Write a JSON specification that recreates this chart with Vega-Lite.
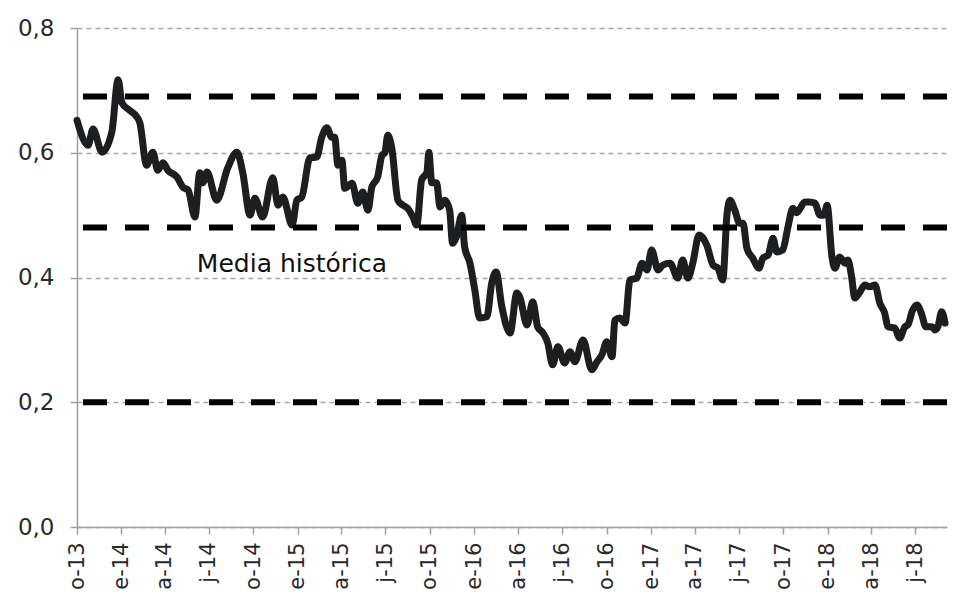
{
  "$schema": "https://vega.github.io/schema/vega-lite/v6.json",
  "width": 870,
  "height": 499,
  "autosize": "none",
  "padding": {"left": 77, "top": 28, "right": 13, "bottom": 72},
  "background": "white",
  "config": {
    "view": {"stroke": null},
    "font": "DejaVu Sans",
    "axis": {
      "domainColor": "#a0a0a0",
      "domainWidth": 1.5,
      "tickColor": "#a0a0a0",
      "tickWidth": 1.5,
      "tickSize": 7,
      "labelFont": "DejaVu Sans",
      "labelColor": "#2a2a2a",
      "gridColor": "#a6a6a6",
      "gridWidth": 1.3,
      "gridDash": [5, 4]
    }
  },
  "datasets": {
    "series": [
      {"date": "2013-10-01", "value": 0.652},
      {"date": "2013-10-24", "value": 0.612},
      {"date": "2013-11-03", "value": 0.638},
      {"date": "2013-11-22", "value": 0.601},
      {"date": "2013-12-12", "value": 0.633},
      {"date": "2013-12-25", "value": 0.717},
      {"date": "2014-01-02", "value": 0.68},
      {"date": "2014-01-18", "value": 0.668},
      {"date": "2014-01-29", "value": 0.661},
      {"date": "2014-02-08", "value": 0.648},
      {"date": "2014-02-22", "value": 0.58},
      {"date": "2014-03-07", "value": 0.601},
      {"date": "2014-03-17", "value": 0.572},
      {"date": "2014-03-28", "value": 0.584},
      {"date": "2014-04-07", "value": 0.572},
      {"date": "2014-04-26", "value": 0.561},
      {"date": "2014-05-08", "value": 0.545},
      {"date": "2014-05-19", "value": 0.54},
      {"date": "2014-06-02", "value": 0.497},
      {"date": "2014-06-12", "value": 0.568},
      {"date": "2014-06-18", "value": 0.552},
      {"date": "2014-06-27", "value": 0.569},
      {"date": "2014-07-17", "value": 0.524},
      {"date": "2014-08-09", "value": 0.576},
      {"date": "2014-08-28", "value": 0.601},
      {"date": "2014-09-09", "value": 0.568},
      {"date": "2014-09-24", "value": 0.5},
      {"date": "2014-10-04", "value": 0.527},
      {"date": "2014-10-20", "value": 0.497},
      {"date": "2014-11-10", "value": 0.56},
      {"date": "2014-11-21", "value": 0.516},
      {"date": "2014-12-01", "value": 0.529},
      {"date": "2014-12-20", "value": 0.484},
      {"date": "2014-12-30", "value": 0.524},
      {"date": "2015-01-09", "value": 0.529},
      {"date": "2015-01-26", "value": 0.592},
      {"date": "2015-02-09", "value": 0.593},
      {"date": "2015-02-19", "value": 0.624},
      {"date": "2015-03-02", "value": 0.64},
      {"date": "2015-03-12", "value": 0.625},
      {"date": "2015-03-18", "value": 0.625},
      {"date": "2015-03-25", "value": 0.58},
      {"date": "2015-04-02", "value": 0.588},
      {"date": "2015-04-08", "value": 0.543},
      {"date": "2015-04-23", "value": 0.551},
      {"date": "2015-05-05", "value": 0.519},
      {"date": "2015-05-15", "value": 0.537},
      {"date": "2015-05-26", "value": 0.508},
      {"date": "2015-06-03", "value": 0.545},
      {"date": "2015-06-15", "value": 0.561},
      {"date": "2015-06-24", "value": 0.596},
      {"date": "2015-06-30", "value": 0.6},
      {"date": "2015-07-06", "value": 0.628},
      {"date": "2015-07-14", "value": 0.609},
      {"date": "2015-07-27", "value": 0.524},
      {"date": "2015-08-06", "value": 0.516},
      {"date": "2015-08-16", "value": 0.511},
      {"date": "2015-08-27", "value": 0.497},
      {"date": "2015-09-04", "value": 0.484},
      {"date": "2015-09-14", "value": 0.556},
      {"date": "2015-09-25", "value": 0.569},
      {"date": "2015-09-29", "value": 0.601},
      {"date": "2015-10-05", "value": 0.552},
      {"date": "2015-10-15", "value": 0.552},
      {"date": "2015-10-22", "value": 0.513},
      {"date": "2015-11-01", "value": 0.524},
      {"date": "2015-11-11", "value": 0.508},
      {"date": "2015-11-17", "value": 0.455},
      {"date": "2015-11-25", "value": 0.465},
      {"date": "2015-12-06", "value": 0.5},
      {"date": "2015-12-12", "value": 0.449},
      {"date": "2015-12-23", "value": 0.423},
      {"date": "2016-01-02", "value": 0.38},
      {"date": "2016-01-12", "value": 0.335},
      {"date": "2016-01-27", "value": 0.337},
      {"date": "2016-02-06", "value": 0.391},
      {"date": "2016-02-15", "value": 0.409},
      {"date": "2016-02-27", "value": 0.353},
      {"date": "2016-03-15", "value": 0.311},
      {"date": "2016-03-29", "value": 0.375},
      {"date": "2016-04-04", "value": 0.369},
      {"date": "2016-04-19", "value": 0.324},
      {"date": "2016-05-01", "value": 0.361},
      {"date": "2016-05-11", "value": 0.321},
      {"date": "2016-05-22", "value": 0.311},
      {"date": "2016-06-01", "value": 0.295},
      {"date": "2016-06-11", "value": 0.26},
      {"date": "2016-06-22", "value": 0.289},
      {"date": "2016-07-06", "value": 0.263},
      {"date": "2016-07-17", "value": 0.281},
      {"date": "2016-07-27", "value": 0.265},
      {"date": "2016-08-13", "value": 0.3},
      {"date": "2016-08-31", "value": 0.252},
      {"date": "2016-09-11", "value": 0.265},
      {"date": "2016-09-21", "value": 0.276},
      {"date": "2016-10-01", "value": 0.297},
      {"date": "2016-10-12", "value": 0.273},
      {"date": "2016-10-18", "value": 0.332},
      {"date": "2016-10-28", "value": 0.335},
      {"date": "2016-11-08", "value": 0.327},
      {"date": "2016-11-18", "value": 0.396},
      {"date": "2016-12-02", "value": 0.399},
      {"date": "2016-12-13", "value": 0.423},
      {"date": "2016-12-23", "value": 0.412},
      {"date": "2017-01-02", "value": 0.444},
      {"date": "2017-01-15", "value": 0.412},
      {"date": "2017-01-25", "value": 0.42},
      {"date": "2017-02-09", "value": 0.423},
      {"date": "2017-02-25", "value": 0.399},
      {"date": "2017-03-07", "value": 0.428},
      {"date": "2017-03-18", "value": 0.399},
      {"date": "2017-03-28", "value": 0.423},
      {"date": "2017-04-10", "value": 0.468},
      {"date": "2017-04-26", "value": 0.452},
      {"date": "2017-05-09", "value": 0.42},
      {"date": "2017-05-19", "value": 0.415},
      {"date": "2017-05-29", "value": 0.396},
      {"date": "2017-06-07", "value": 0.503},
      {"date": "2017-06-13", "value": 0.524},
      {"date": "2017-06-23", "value": 0.508},
      {"date": "2017-07-03", "value": 0.487},
      {"date": "2017-07-10", "value": 0.487},
      {"date": "2017-07-18", "value": 0.447},
      {"date": "2017-07-30", "value": 0.431},
      {"date": "2017-08-12", "value": 0.415},
      {"date": "2017-08-20", "value": 0.431},
      {"date": "2017-08-31", "value": 0.436},
      {"date": "2017-09-10", "value": 0.463},
      {"date": "2017-09-18", "value": 0.441},
      {"date": "2017-09-30", "value": 0.444},
      {"date": "2017-10-11", "value": 0.481},
      {"date": "2017-10-21", "value": 0.511},
      {"date": "2017-10-29", "value": 0.504},
      {"date": "2017-11-15", "value": 0.521},
      {"date": "2017-11-25", "value": 0.521},
      {"date": "2017-12-06", "value": 0.519},
      {"date": "2017-12-16", "value": 0.5},
      {"date": "2017-12-24", "value": 0.5},
      {"date": "2017-12-31", "value": 0.516},
      {"date": "2018-01-10", "value": 0.433},
      {"date": "2018-01-16", "value": 0.415},
      {"date": "2018-01-26", "value": 0.433},
      {"date": "2018-02-06", "value": 0.423},
      {"date": "2018-02-12", "value": 0.428},
      {"date": "2018-02-20", "value": 0.399},
      {"date": "2018-02-26", "value": 0.367},
      {"date": "2018-03-09", "value": 0.377},
      {"date": "2018-03-19", "value": 0.388},
      {"date": "2018-03-29", "value": 0.385},
      {"date": "2018-04-09", "value": 0.388},
      {"date": "2018-04-19", "value": 0.359},
      {"date": "2018-04-29", "value": 0.343},
      {"date": "2018-05-06", "value": 0.321},
      {"date": "2018-05-20", "value": 0.319},
      {"date": "2018-05-30", "value": 0.303},
      {"date": "2018-06-10", "value": 0.321},
      {"date": "2018-06-16", "value": 0.324},
      {"date": "2018-06-26", "value": 0.348},
      {"date": "2018-07-05", "value": 0.356},
      {"date": "2018-07-15", "value": 0.34},
      {"date": "2018-07-23", "value": 0.321},
      {"date": "2018-08-05", "value": 0.321},
      {"date": "2018-08-11", "value": 0.316},
      {"date": "2018-08-17", "value": 0.321},
      {"date": "2018-08-25", "value": 0.345},
      {"date": "2018-09-01", "value": 0.327}
    ],
    "refs": [
      {"level": 0.69},
      {"level": 0.48},
      {"level": 0.2}
    ],
    "labels": [
      {"date": "2014-06-06", "value": 0.409, "text": "Media histórica"}
    ]
  },
  "layer": [
    {
      "data": {"name": "series"},
      "mark": {"type": "line", "color": "#1d1e20", "strokeWidth": 7, "interpolate": "monotone", "strokeJoin": "round", "strokeCap": "round"},
      "encoding": {
        "x": {
          "field": "date",
          "type": "temporal",
          "title": null,
          "scale": {
            "type": "utc",
            "domain": [
              {"year": 2013, "month": 10, "date": 1, "utc": true},
              {"year": 2018, "month": 9, "date": 5, "utc": true}
            ]
          },
          "axis": {
            "grid": false,
            "labelAngle": -90,
            "labelPadding": 8,
            "labelFontSize": 21,
            "values": [
              {"year": 2013, "month": 10, "date": 1, "utc": true},
              {"year": 2014, "month": 1, "date": 1, "utc": true},
              {"year": 2014, "month": 4, "date": 1, "utc": true},
              {"year": 2014, "month": 7, "date": 1, "utc": true},
              {"year": 2014, "month": 10, "date": 1, "utc": true},
              {"year": 2015, "month": 1, "date": 1, "utc": true},
              {"year": 2015, "month": 4, "date": 1, "utc": true},
              {"year": 2015, "month": 7, "date": 1, "utc": true},
              {"year": 2015, "month": 10, "date": 1, "utc": true},
              {"year": 2016, "month": 1, "date": 1, "utc": true},
              {"year": 2016, "month": 4, "date": 1, "utc": true},
              {"year": 2016, "month": 7, "date": 1, "utc": true},
              {"year": 2016, "month": 10, "date": 1, "utc": true},
              {"year": 2017, "month": 1, "date": 1, "utc": true},
              {"year": 2017, "month": 4, "date": 1, "utc": true},
              {"year": 2017, "month": 7, "date": 1, "utc": true},
              {"year": 2017, "month": 10, "date": 1, "utc": true},
              {"year": 2018, "month": 1, "date": 1, "utc": true},
              {"year": 2018, "month": 4, "date": 1, "utc": true},
              {"year": 2018, "month": 7, "date": 1, "utc": true}
            ],
            "labelExpr": "(utcmonth(datum.value)==0?'e':utcmonth(datum.value)==3?'a':utcmonth(datum.value)==6?'j':'o')+'-'+utcFormat(datum.value,'%y')"
          }
        },
        "y": {
          "field": "value",
          "type": "quantitative",
          "title": null,
          "scale": {"domain": [0, 0.8], "nice": false, "zero": true},
          "axis": {
            "values": [0, 0.2, 0.4, 0.6, 0.8],
            "grid": true,
            "labelFontSize": 23,
            "labelPadding": 16,
            "labelExpr": "replace(format(datum.value,'.1f'),'.',',')"
          }
        }
      }
    },
    {
      "data": {"name": "refs"},
      "mark": {"type": "rule", "color": "#000000", "strokeWidth": 6, "strokeDash": [24, 18], "strokeCap": "butt"},
      "encoding": {
        "y": {"field": "level", "type": "quantitative", "title": null}
      }
    },
    {
      "data": {"name": "labels"},
      "mark": {"type": "text", "align": "left", "baseline": "alphabetic", "font": "DejaVu Sans", "fontSize": 25, "color": "#111111"},
      "encoding": {
        "x": {"field": "date", "type": "temporal", "title": null},
        "y": {"field": "value", "type": "quantitative", "title": null},
        "text": {"field": "text"}
      }
    }
  ]
}
